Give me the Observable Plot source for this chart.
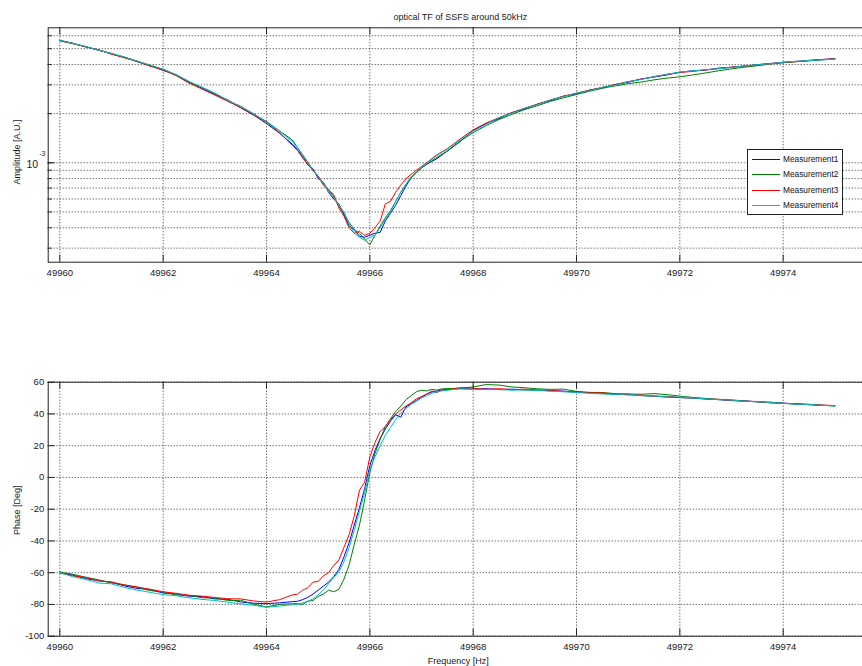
<!DOCTYPE html>
<html>
<head>
<meta charset="utf-8">
<script src="https://cdn.jsdelivr.net/npm/d3@7"></script>
<script src="https://cdn.jsdelivr.net/npm/@observablehq/plot@0.6"></script>
<style>
  body { margin: 0; background: #fff; }
  #fig { position: relative; width: 862px; height: 666px; overflow: hidden; background: #fff;
         font-family: "Liberation Sans", Arial, sans-serif; }
  #top, #bot { position: absolute; left: 0; }
  #top { top: 0; }
  #bot { top: 333px; }
  #legend { position: absolute; left: 747px; top: 149px; width: 96px; height: 66px; box-sizing: border-box;
            border: 1px solid #222; background: #fff; }
  .lg-row { position: absolute; left: 0; height: 1px; width: 100%; }
  .lg-line { position: absolute; left: 4px; width: 28px; height: 1px; }
  .lg-text { position: absolute; left: 35px; top: -5px; font-size: 8.3px; line-height: 10px; color: #111; white-space: nowrap; }
</style>
</head>
<body>
<div id="fig">
  <div id="top"></div>
  <div id="bot"></div>
  <div id="legend"></div>
</div>
<script>
// ---------------- data ----------------
const title = "optical TF of SSFS around 50kHz";
const seriesNames = ["Measurement1", "Measurement2", "Measurement3", "Measurement4"];
const seriesColors = ["#0000ff", "#008000", "#ff0000", "#00bfbf"];

const freq = [49960,49960.25,49960.5,49960.75,49961,49961.25,49961.5,49961.75,49962,49962.25,49962.5,49962.75,49963,49963.25,49963.5,49963.75,49964,49964.25,49964.5,
  49964.6,49964.7,49964.8,49964.9,49965,49965.1,49965.2,49965.3,49965.4,49965.5,49965.6,49965.7,49965.8,49965.9,49966,49966.1,49966.2,49966.3,49966.4,49966.5,49966.6,49966.7,49966.8,49966.9,49967,49967.1,49967.2,49967.3,49967.4,49967.5,
  49967.75,49968,49968.25,49968.5,49968.75,49969,49969.25,49969.5,49969.75,49970,49970.25,49970.5,49970.75,49971,49971.25,49971.5,49971.75,49972,49972.25,49972.5,49972.75,49973,49973.25,49973.5,49973.75,49974,49974.25,49974.5,49974.75,49975];

// amplitude, in units of 1e-3 A.U.
const amp1 = [5.62,5.40,5.12,4.92,4.64,4.44,4.16,3.95,3.68,3.46,3.14,2.86,2.62,2.43,2.17,1.96,1.74,1.52,1.30,
  1.20,1.09,0.97,0.92,0.80,0.76,0.66,0.60,0.56,0.48,0.41,0.39,0.355,0.35,0.36,0.37,0.375,0.44,0.49,0.55,0.63,0.72,0.81,0.87,0.93,0.98,1.02,1.06,1.12,1.18,
  1.35,1.58,1.74,1.86,2.03,2.13,2.29,2.40,2.56,2.64,2.79,2.87,3.02,3.11,3.26,3.35,3.45,3.59,3.66,3.69,3.80,3.85,3.90,3.99,4.06,4.11,4.18,4.22,4.29,4.34];
const amp2 = [5.60,5.36,5.15,4.88,4.68,4.40,4.20,3.92,3.74,3.44,3.10,2.90,2.66,2.39,2.22,1.99,1.79,1.57,1.38,
  1.24,1.12,1.01,0.90,0.83,0.74,0.69,0.62,0.54,0.49,0.43,0.39,0.37,0.34,0.315,0.36,0.41,0.46,0.51,0.58,0.66,0.74,0.81,0.87,0.93,0.98,1.03,1.08,1.13,1.18,
  1.36,1.53,1.69,1.84,1.98,2.12,2.24,2.38,2.50,2.62,2.74,2.86,2.96,3.05,3.12,3.22,3.30,3.36,3.45,3.55,3.66,3.76,3.85,3.93,4.02,4.10,4.16,4.22,4.27,4.33];
const amp3 = [5.58,5.38,5.13,4.91,4.62,4.40,4.17,3.90,3.70,3.42,3.08,2.83,2.60,2.38,2.18,1.97,1.77,1.53,1.28,
  1.19,1.07,0.98,0.89,0.83,0.73,0.68,0.64,0.53,0.47,0.40,0.37,0.38,0.36,0.37,0.40,0.44,0.56,0.58,0.66,0.73,0.80,0.85,0.90,0.95,1.00,1.06,1.12,1.17,1.22,
  1.40,1.59,1.75,1.89,2.03,2.16,2.29,2.43,2.56,2.67,2.78,2.90,3.01,3.14,3.25,3.37,3.48,3.57,3.63,3.71,3.77,3.85,3.92,3.97,4.04,4.13,4.16,4.24,4.29,4.32];
const amp4 = [5.63,5.39,5.16,4.89,4.67,4.45,4.19,3.96,3.75,3.47,3.15,2.90,2.67,2.42,2.21,2.00,1.77,1.56,1.35,
  1.23,1.11,1.00,0.90,0.82,0.75,0.67,0.61,0.55,0.50,0.42,0.37,0.35,0.335,0.35,0.36,0.40,0.45,0.50,0.58,0.66,0.74,0.82,0.88,0.94,0.99,1.05,1.11,1.16,1.21,
  1.38,1.56,1.72,1.89,2.01,2.16,2.27,2.43,2.54,2.67,2.76,2.90,2.99,3.14,3.23,3.37,3.48,3.60,3.65,3.72,3.77,3.83,3.92,3.99,4.04,4.13,4.18,4.23,4.27,4.31];

// phase, degrees
const ph1 = [-60.0,-61.5,-63.8,-65.0,-66.0,-68.3,-69.9,-70.6,-72.8,-73.4,-74.8,-75.0,-76.5,-76.8,-78.4,-79.2,-79.5,-79.0,-78.2,
  -78.0,-77.0,-75.5,-73.5,-71.0,-68.5,-66.0,-62.5,-58.0,-50.0,-41.0,-30.0,-19.0,-7.0,7.5,17.0,24.5,30.5,35.5,39.5,38.0,44.5,46.5,48.5,50.5,52.5,53.8,54.5,55.0,55.5,
  56.0,55.7,55.9,55.4,55.6,55.2,55.0,54.6,54.4,53.6,53.5,53.0,52.4,52.3,51.6,51.2,50.6,50.3,49.9,49.5,49.0,48.4,48.3,47.6,47.1,46.9,46.2,45.9,45.4,45.2];
const ph2 = [-59.5,-61.0,-62.8,-64.5,-66.5,-67.6,-69.2,-71.3,-72.2,-74.0,-74.3,-75.8,-75.9,-77.5,-77.4,-79.8,-81.5,-80.0,-79.5,
  -79.5,-80.0,-78.0,-77.5,-75.0,-73.5,-71.0,-72.0,-70.5,-64.0,-55.0,-42.0,-30.0,-14.0,3.0,15.0,24.0,32.0,37.0,41.5,45.0,49.0,51.5,54.0,55.0,54.5,55.5,55.0,55.8,56.0,
  56.2,57.0,58.5,58.2,57.0,56.5,55.8,55.5,55.6,54.2,53.6,53.5,52.8,52.6,52.4,52.8,52.2,51.2,50.4,49.8,49.2,48.9,48.1,47.6,47.5,46.6,46.3,46.1,45.5,45.0];
const ph3 = [-60.2,-62.0,-63.0,-65.2,-65.8,-67.8,-69.0,-70.5,-72.0,-73.0,-74.2,-74.8,-75.6,-76.4,-76.5,-77.8,-78.5,-77.0,-74.0,
  -73.5,-71.0,-69.5,-66.0,-65.5,-62.0,-60.0,-55.5,-52.0,-44.0,-36.0,-24.0,-8.0,-3.0,13.0,22.0,29.0,32.0,36.5,40.0,42.5,45.0,47.0,49.5,51.0,52.5,54.5,53.5,55.5,55.0,
  56.6,56.2,55.5,55.9,55.3,55.6,55.0,54.9,54.1,54.0,53.2,53.3,52.5,52.0,51.9,51.2,51.1,50.4,50.2,49.4,49.2,48.5,48.0,47.9,47.0,46.6,46.5,45.8,45.6,45.3];
const ph4 = [-59.8,-62.5,-64.2,-66.5,-67.0,-69.3,-71.0,-72.4,-73.8,-74.5,-75.8,-76.8,-77.5,-78.6,-79.6,-80.5,-81.8,-81.0,-80.2,
  -80.0,-79.0,-78.0,-76.5,-74.0,-71.0,-67.0,-63.0,-59.5,-53.0,-44.0,-33.0,-21.0,-9.5,5.0,13.0,20.0,26.5,31.5,36.5,40.5,43.5,46.0,48.0,50.0,51.5,53.0,54.0,54.5,55.0,
  55.8,55.5,55.4,55.3,55.0,55.1,54.8,54.3,54.0,53.5,53.0,52.6,52.3,52.6,51.5,51.3,50.7,50.7,50.0,49.6,49.0,48.7,48.0,47.8,47.2,46.7,46.2,46.0,45.4,45.1];

// axis ticks
const xTicks = [49960, 49962, 49964, 49966, 49968, 49970, 49972, 49974];
const ampMajor = [1e-3];
const ampGrid = [3e-4, 4e-4, 5e-4, 6e-4, 7e-4, 8e-4, 9e-4, 1e-3, 2e-3, 3e-3, 4e-3, 5e-3, 6e-3];
const phaseTicks = [-100, -80, -60, -40, -20, 0, 20, 40, 60];

// ---------------- tables ----------------
const ampSeries = [amp1, amp2, amp3, amp4];
const phSeries = [ph1, ph2, ph3, ph4];
const ampRows = [], phRows = [];
seriesNames.forEach((name, s) => {
  freq.forEach((f, i) => {
    ampRows.push({f, a: ampSeries[s][i] * 1e-3, name});
    phRows.push({f, p: phSeries[s][i], name});
  });
});

// ---------------- layout ----------------
const W = 862, H = 333;
const xDomain = [49959.775, 49975.574];
const mL = 47.7, mR = -2;
const innerW = W - mL - mR;
const font = "'Liberation Sans', Arial, sans-serif";
const gridStyle = {stroke: "#333", strokeDasharray: "1,2", strokeWidth: 1};
const ink = "#1a1a1a";

// top: amplitude
const tTop = 27.3, tBottom = 71.3;
const innerHTop = H - tTop - tBottom;
const topPlot = Plot.plot({
  width: W, height: H,
  marginTop: tTop, marginBottom: tBottom, marginLeft: mL, marginRight: mR,
  style: {fontFamily: font, fontSize: "9.5px", color: ink, background: "transparent", overflow: "hidden"},
  x: {domain: xDomain, axis: null},
  y: {type: "log", domain: [2.461e-4, 6.709e-3], axis: null},
  color: {domain: seriesNames, range: seriesColors},
  marks: [
    Plot.ruleX(xTicks, {x: d => d, ...gridStyle}),
    Plot.ruleY(ampGrid, {y: d => d, ...gridStyle}),
    Plot.line(ampRows, {x: "f", y: "a", z: "name", stroke: "name", strokeWidth: 1}),
    Plot.frame({stroke: "#222"}),
    Plot.tickX(xTicks, {x: d => d, insetTop: innerHTop - 7, stroke: "#222"}),
    Plot.tickX(xTicks, {x: d => d, insetBottom: innerHTop - 7, stroke: "#222"}),
    Plot.tickY(ampGrid, {y: d => d, insetRight: innerW - 4, stroke: "#222"}),
    Plot.tickY(ampMajor, {y: d => d, insetRight: innerW - 7, stroke: "#222"}),
    Plot.text(xTicks, {x: d => d, frameAnchor: "bottom", lineAnchor: "middle", dy: 11, text: d => String(d), fill: ink}),
    Plot.text(ampMajor, {y: d => d, frameAnchor: "left", lineAnchor: "middle", dx: -10, dy: 2, textAnchor: "end", text: () => "10", fontSize: 10.5, fill: ink}),
    Plot.text(ampMajor, {y: d => d, frameAnchor: "left", lineAnchor: "middle", dx: -9, dy: -9, textAnchor: "start", text: () => "-3", fontSize: 7, fill: ink}),
    Plot.text([title], {frameAnchor: "top", lineAnchor: "middle", dx: 4, dy: -11, text: d => d, fontSize: 9, fill: ink}),
    Plot.text(["Amplitude [A.U.]"], {frameAnchor: "left", lineAnchor: "middle", textAnchor: "middle", dx: -31, dy: 7, rotate: -90, text: d => d, fontSize: 9, fill: ink})
  ]
});
document.getElementById("top").appendChild(topPlot);

// bottom: phase
const bTop = 48.7, bBottom = 30.3;
const innerHBot = H - bTop - bBottom;
const botPlot = Plot.plot({
  width: W, height: H,
  marginTop: bTop, marginBottom: bBottom, marginLeft: mL, marginRight: mR,
  style: {fontFamily: font, fontSize: "9.5px", color: ink, background: "transparent", overflow: "hidden"},
  x: {domain: xDomain, axis: null},
  y: {domain: [-100, 60], axis: null},
  color: {domain: seriesNames, range: seriesColors},
  marks: [
    Plot.ruleX(xTicks, {x: d => d, ...gridStyle}),
    Plot.ruleY(phaseTicks, {y: d => d, ...gridStyle}),
    Plot.line(phRows, {x: "f", y: "p", z: "name", stroke: "name", strokeWidth: 1}),
    Plot.frame({stroke: "#222"}),
    Plot.tickX(xTicks, {x: d => d, insetTop: innerHBot - 7, stroke: "#222"}),
    Plot.tickX(xTicks, {x: d => d, insetBottom: innerHBot - 7, stroke: "#222"}),
    Plot.tickY(phaseTicks, {y: d => d, insetRight: innerW - 7, stroke: "#222"}),
    Plot.text(xTicks, {x: d => d, frameAnchor: "bottom", lineAnchor: "middle", dy: 10.5, text: d => String(d), fill: ink}),
    Plot.text(phaseTicks, {y: d => d, frameAnchor: "left", lineAnchor: "middle", dx: -4, textAnchor: "end", text: d => String(d), fill: ink}),
    Plot.text(["Frequency [Hz]"], {frameAnchor: "bottom", lineAnchor: "middle", dx: 2, dy: 24.5, text: d => d, fontSize: 9, fill: ink}),
    Plot.text(["Phase [Deg]"], {frameAnchor: "left", lineAnchor: "middle", textAnchor: "middle", dx: -31, dy: 1, rotate: -90, text: d => d, fontSize: 9, fill: ink})
  ]
});
document.getElementById("bot").appendChild(botPlot);

// legend
const legend = document.getElementById("legend");
const rowY = [9, 24, 39.5, 55];
seriesNames.forEach((name, i) => {
  const row = document.createElement("div");
  row.className = "lg-row";
  row.style.top = rowY[i] + "px";
  const line = document.createElement("div");
  line.className = "lg-line";
  line.style.background = seriesColors[i];
  const txt = document.createElement("div");
  txt.className = "lg-text";
  txt.textContent = name;
  row.appendChild(line);
  row.appendChild(txt);
  legend.appendChild(row);
});
</script>
</body>
</html>
